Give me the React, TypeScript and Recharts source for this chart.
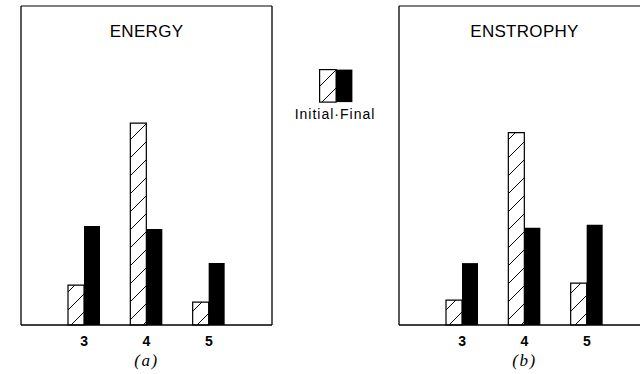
import { BarChart, Bar, XAxis, YAxis } from 'recharts'

// wavenumber groups shared by both panels
const wavenumbers = ['3', '4', '5']

// panel (a): energy per wavenumber, arbitrary units
const energyInitial = [12.5, 63.3, 7.2]
const energyFinal = [31.0, 30.1, 19.4]

// panel (b): enstrophy per wavenumber
const enstrophyInitial = [7.8, 60.3, 13.1]
const enstrophyFinal = [19.4, 30.5, 31.4]

const INK = '#000'
const LETTERING = '"Liberation Sans", Arial, sans-serif'

function toRows(initial: number[], final: number[]) {
  return wavenumbers.map((k, i) => ({ k, initial: initial[i], final: final[i] }))
}

function HatchDef({ id }: { id: string }) {
  return (
    <defs>
      <pattern id={id} patternUnits="userSpaceOnUse" width={18} height={18}>
        <rect width={18} height={18} fill="#fff" />
        <line x1={0} y1={18} x2={18} y2={0} stroke={INK} strokeWidth={1} />
      </pattern>
    </defs>
  )
}

function Panel({
  rows,
  hatchId,
  title,
  caption,
}: {
  rows: { k: string; initial: number; final: number }[]
  hatchId: string
  title: string
  caption: string
}) {
  return (
    <div style={{ position: 'relative', width: 290, height: 374 }}>
      <BarChart
        width={290}
        height={374}
        data={rows}
        margin={{ top: 5, right: 17, left: 20, bottom: 19 }}
        barGap={0}
        barSize={16}
      >
        <HatchDef id={hatchId} />
        <XAxis
          dataKey="k"
          height={30}
          padding={{ left: 32, right: 32 }}
          axisLine={{ stroke: INK, strokeWidth: 1.3 }}
          tickLine={false}
          tickSize={0}
          tickMargin={11}
          tick={{ fill: INK, fontSize: 14, fontWeight: 'bold', fontFamily: LETTERING }}
        />
        {/* top and right axes only close the frame */}
        <XAxis
          xAxisId="top"
          orientation="top"
          dataKey="k"
          height={1}
          tick={false}
          tickLine={false}
          axisLine={{ stroke: INK, strokeWidth: 1.2 }}
        />
        <YAxis
          domain={[0, 100]}
          width={1}
          tick={false}
          tickLine={false}
          axisLine={{ stroke: INK, strokeWidth: 1.3 }}
        />
        <YAxis
          yAxisId="r"
          orientation="right"
          domain={[0, 100]}
          width={1}
          tick={false}
          tickLine={false}
          axisLine={{ stroke: INK, strokeWidth: 1.3 }}
        />
        <Bar
          dataKey="initial"
          fill={`url(#${hatchId})`}
          stroke={INK}
          strokeWidth={1.2}
          isAnimationActive={false}
        />
        <Bar dataKey="final" fill={INK} isAnimationActive={false} />
      </BarChart>
      <div
        style={{
          position: 'absolute',
          left: 21,
          width: 251,
          top: 22,
          textAlign: 'center',
          fontFamily: LETTERING,
          fontSize: 17,
          letterSpacing: 0.3,
          color: INK,
        }}
      >
        {title}
      </div>
      <div
        style={{
          position: 'absolute',
          left: 21,
          width: 251,
          top: 351,
          textAlign: 'center',
          fontFamily: '"Liberation Serif", serif',
          fontStyle: 'italic',
          fontSize: 17,
          letterSpacing: 1.5,
          color: INK,
        }}
      >
        {caption}
      </div>
    </div>
  )
}

function LegendKey() {
  return (
    <div style={{ position: 'absolute', left: 290, top: 69, width: 90 }}>
      <svg width={34} height={34} style={{ display: 'block', marginLeft: 29 }}>
        <HatchDef id="hatchKey" />
        <rect x={0.6} y={0.6} width={16.5} height={32.5} fill="url(#hatchKey)" stroke={INK} strokeWidth={1.2} />
        <rect x={17} y={0.6} width={16.4} height={32.5} fill={INK} />
      </svg>
      <div
        style={{
          marginTop: 3,
          textAlign: 'center',
          fontFamily: LETTERING,
          fontSize: 14,
          letterSpacing: 1,
          color: INK,
          whiteSpace: 'nowrap',
        }}
      >
        Initial·Final
      </div>
    </div>
  )
}

export default function App() {
  return (
    <div
      style={{
        position: 'absolute',
        left: 0,
        top: 0,
        width: 640,
        height: 374,
        overflow: 'hidden',
        background: '#fff',
      }}
    >
      <div style={{ position: 'absolute', left: 0, top: 0 }}>
        <Panel
          rows={toRows(energyInitial, energyFinal)}
          hatchId="hatchA"
          title="ENERGY"
          caption="(a)"
        />
      </div>
      <div style={{ position: 'absolute', left: 378, top: 0 }}>
        <Panel
          rows={toRows(enstrophyInitial, enstrophyFinal)}
          hatchId="hatchB"
          title="ENSTROPHY"
          caption="(b)"
        />
      </div>
      <LegendKey />
    </div>
  )
}
